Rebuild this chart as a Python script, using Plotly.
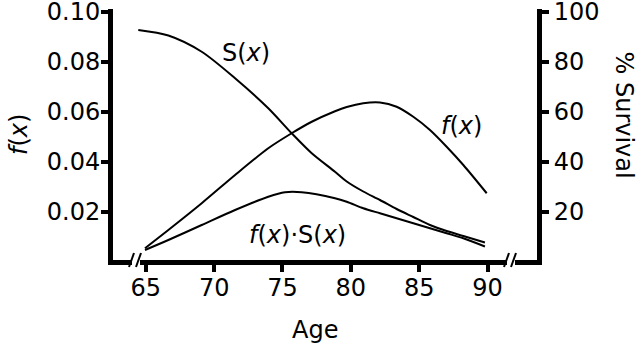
import plotly.graph_objects as go

# ---- data ----
ages_f = [64.94, 66.65, 69.09, 71.53, 73.96, 75.67, 77.14, 78.84, 79.70, 80.91, 82.13,
          83.35, 84.57, 85.79, 87.01, 88.23, 89.94]
f_vals = [0.0055, 0.0128, 0.0235, 0.0348, 0.0455, 0.0515, 0.0561, 0.0603, 0.0620, 0.0635, 0.0638,
          0.0621, 0.0581, 0.0528, 0.0461, 0.0388, 0.0275]

ages_s = [64.45, 66.65, 69.09, 71.53, 73.96, 75.67, 77.14, 78.84, 79.70, 80.91, 82.13,
          83.35, 84.57, 85.79, 87.01, 88.23, 89.81]
s_vals = [92.8, 90.6, 84.1, 73.5, 61.5, 51.5, 43.5, 36.1, 32.2, 28.2, 24.8,
          21.2, 18.0, 14.8, 12.4, 10.4, 7.8]

ages_fs = [64.94, 66.65, 69.09, 71.53, 73.96, 75.18, 76.40, 78.84, 79.70, 80.91, 82.13,
           83.35, 84.57, 85.79, 87.01, 88.23, 89.81]
fs_vals = [0.0048, 0.0088, 0.0148, 0.0208, 0.0261, 0.0279, 0.0279, 0.0255, 0.0241, 0.0215, 0.0195,
           0.0175, 0.0155, 0.0135, 0.0115, 0.0095, 0.0062]

x_ticks = [65, 70, 75, 80, 85, 90]
left_ticks = [0.02, 0.04, 0.06, 0.08, 0.10]
right_ticks = [20, 40, 60, 80, 100]

FONT = "DejaVu Sans, Liberation Sans, Arial, sans-serif"
W, H = 640, 348
ML, MR, MT, MB = 113, 103, 9, 88
PW, PH = W - ML - MR, H - MT - MB

def px(x):
    return (x - ML) / PW

def py(y):
    return (H - MB - y) / PH

line_style = dict(color="black", width=2, shape="spline", smoothing=0.8)

fig = go.Figure()
fig.add_trace(go.Scatter(x=ages_f, y=f_vals, mode="lines", line=line_style, name="f(x)", yaxis="y"))
fig.add_trace(go.Scatter(x=ages_fs, y=fs_vals, mode="lines", line=line_style, name="f(x)·S(x)", yaxis="y"))
fig.add_trace(go.Scatter(x=ages_s, y=s_vals, mode="lines", line=line_style, name="S(x)", yaxis="y2"))

axis_common = dict(showgrid=False, zeroline=False, showline=True, linecolor="black", linewidth=5,
                   ticks="outside", ticklen=7, tickwidth=4, tickcolor="black", automargin=False,
                   ticklabeloverflow="allow",
                   tickfont=dict(family=FONT, size=24, color="black"))

fig.update_layout(
    width=W, height=H,
    margin=dict(l=ML, r=MR, t=MT, b=MB, autoexpand=False),
    paper_bgcolor="white", plot_bgcolor="white",
    showlegend=False,
    font=dict(family=FONT, color="black"),
    xaxis=dict(**axis_common, range=[62.6, 93.62], tickvals=x_ticks, ticklabelstandoff=-5),
    yaxis=dict(**axis_common, range=[0.0008, 0.1012], tickvals=left_ticks, tickformat=".2f",
               ticklabelstandoff=-4),
    yaxis2=dict(**axis_common, range=[0.8, 101.2], tickvals=right_ticks, overlaying="y", side="right"),
)

# axis titles
title_font = dict(family=FONT, size=24, color="black")
common_ann = dict(xref="paper", yref="paper", showarrow=False, font=title_font,
                  xanchor="center", yanchor="middle")
fig.add_annotation(x=px(19), y=py(135), text="<i>f</i>(<i>x</i>)", textangle=-90, **common_ann)
fig.add_annotation(x=px(623), y=py(114.5), text="% Survival", textangle=90, **common_ann)
fig.add_annotation(x=px(315), y=py(330), text="Age", **common_ann)

# curve labels
fig.add_annotation(x=72.33, y=83.8, xref="x", yref="y2", text="S(<i>x</i>)", showarrow=False,
                   font=title_font, xanchor="center", yanchor="middle")
fig.add_annotation(x=88.09, y=0.0544, xref="x", yref="y", text="<i>f</i>(<i>x</i>)", showarrow=False,
                   font=title_font, xanchor="center", yanchor="middle")
fig.add_annotation(x=76.07, y=0.0108, xref="x", yref="y", text="<i>f</i>(<i>x</i>)·S(<i>x</i>)",
                   showarrow=False, font=title_font, xanchor="center", yanchor="middle")

# axis break marks on the x axis
for gx0, gx1 in [(132, 140), (507, 515)]:
    fig.add_shape(type="rect", xref="paper", yref="paper", x0=px(gx0), x1=px(gx1),
                  y0=py(266), y1=py(254), fillcolor="white", line=dict(width=0), layer="above")
    for off in (0, 7):
        fig.add_shape(type="line", xref="paper", yref="paper",
                      x0=px(gx0 - 3 + off), y0=py(267), x1=px(gx0 + 2 + off), y1=py(253),
                      line=dict(color="black", width=2), layer="above")

fig.write_html("out.html", config={"displayModeBar": False},
               post_script="document.body.style.margin='0';")
